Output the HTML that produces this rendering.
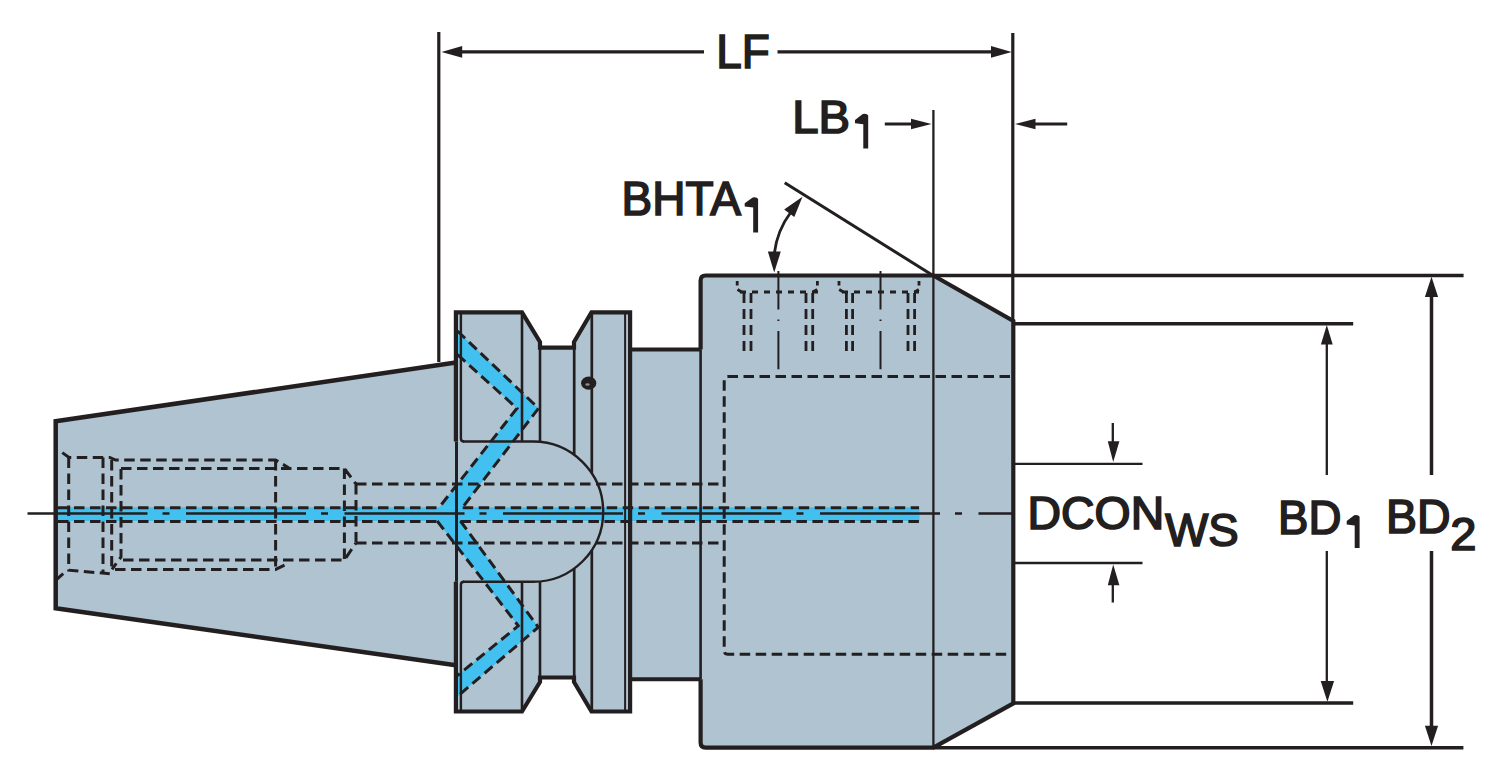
<!DOCTYPE html>
<html><head><meta charset="utf-8">
<style>
html,body{margin:0;padding:0;background:#fff;width:1500px;height:774px;overflow:hidden}
svg{display:block}
text{font-family:"Liberation Sans",sans-serif}
</style></head><body>
<svg width="1500" height="774" viewBox="0 0 1500 774">
<g fill="#afc3d1" stroke="none">
<path d="M55.7 421.2 L455.9 362.6 V665.3 L55.7 608.2 Z"/>
<path d="M455.9 312.3 H522 L540 342 V347.6 H574 V342 L591.5 312.3 H630.1 V711.5 H591.5 L574 682 V677.5 H540 V682 L522 711.5 H455.9 Z"/>
<rect x="628" y="349.6" width="73.60000000000002" height="329.6"/>
<path d="M705.6 275.5 H933.3 L1013.3 321 V703.4 L933.3 747.6 H705.6 Q700.6 747.6 700.6 742.6 V280.5 Q700.6 275.5 705.6 275.5 Z"/>
</g>
<g fill="#42c1f1" stroke="none">
<rect x="58" y="507.2" width="861.5" height="13.800000000000011"/>
<path d="M457.5 331.0 538.5 408.3 462.7 507.2 L439.3 507.2 517.0 408.3 457.5 354.6 Z"/>
<path d="M437.2 521.0 518.3 625.8 457.5 675.5 L457.5 696.4 538.3 627.2 460.4 521.0 Z"/>
</g>
<g stroke="#231f20" fill="none" stroke-linecap="butt" stroke-linejoin="miter">
<path d="M455.9 362.6 L55.7 421.2 L55.7 608.2 L455.9 665.3" stroke-width="4.5"/>
<path d="M455.9 441.5 V312.3 H522 L540 342 V347.6 H574 V342 L591.5 312.3 H630.1 V711.5 H591.5 L574 682 V677.5 H540 V682 L522 711.5 H455.9 V581.8" stroke-width="4.2"/>
<path d="M460.9 312.3 V438.5 Q460.9 441.5 464 441.5 M460.9 711.5 V584.8 Q460.9 581.8 464 581.8" stroke-width="2.4"/>
<path d="M522 312.3 V441.5 M522 581.8 V711.5" stroke-width="2.6"/>
<path d="M540 342 V441.5 M540 581.8 V682" stroke-width="2.6"/>
<path d="M574.2 342 V454.83714934101613 M574.2 568.4628506589838 V682" stroke-width="2.7"/>
<path d="M591.8 312.3 V473.31646376865274 M591.8 549.9835362313472 V711.5" stroke-width="2.7"/>
<path d="M625.1 312.3 V711.5" stroke-width="2"/>
<path d="M463 441.5 H533.0500000000001 A70.14999999999998 70.14999999999998 0 0 1 533.0500000000001 581.8 H463" stroke-width="2.4"/>
<path d="M456.5 441.5 V581.8" stroke-width="3"/>
<path d="M630.1 349.6 H700.6 M630.1 679.2 H700.6" stroke-width="4"/>
<path d="M700.6 349.6 V679.2" stroke-width="2.6"/>
<path d="M700.6 349.6 V280.5 Q700.6 275.5 705.6 275.5 H933.3 L1013.3 321 V703.4 L933.3 747.6 H705.6 Q700.6 747.6 700.6 742.6 V679.2" stroke-width="4.2"/>
<ellipse cx="588.7" cy="383.2" rx="7.6" ry="6.6" fill="#231f20" stroke="none"/>
<ellipse cx="587.5" cy="384.5" rx="2.2" ry="1.2" fill="#8a8f96" stroke="none"/>
</g>
<g stroke="#231f20" fill="none" stroke-width="3" stroke-dasharray="10.5 5.5">
<path d="M58 507.7 H439.3 M462.7 507.7 H919"/>
<path d="M58 521.5 H437.2 M460.4 521.5 H919"/>
<path d="M457.5 331.0 L538.5 408.3 L462.7 507.2"/>
<path d="M457.5 354.6 L517.0 408.3 L439.3 507.2"/>
<path d="M437.2 521.0 L518.3 625.8 L457.5 675.5"/>
<path d="M460.4 521.0 L538.3 627.2 L457.5 696.4"/>
<path d="M356 484 H724 M356 543 H724"/>
<path d="M1010 376.5 H728 Q724.2 376.5 724.2 380 V651 Q724.2 654.2 728 654.2 H1010"/>
<path d="M62.3 452.6 L69 457.4 H109.75 L115.6 460 H275.6 L289 468"/>
<path d="M68.7 457.4 V570.2 L109.75 573.7"/>
<path d="M56.5 579.5 L63.25 573.7"/>
<path d="M103 457.4 V573 M111.7 460 V572"/>
<path d="M121 469 V557 L112 569.4 M123 560 H344.4 L356 543"/>
<path d="M121 468.5 H344.4 L356 484 M344.4 468.5 V560 M356 484 V543"/>
<path d="M115 569.4 H275.6 L289 563 M275.6 460 V569.4"/>
</g>
<path d="M27.5 513.5 H1013" stroke="#231f20" stroke-width="2.4" stroke-dasharray="120 15 7 16.5" fill="none"/>
<g stroke="#231f20" fill="none" stroke-width="2.8" stroke-dasharray="10 6">
<path d="M744 293 V353 M751 293 V353 M806 293 V353 M812.7 293 V353"/>
<path d="M846.4 293 V353 M852.6 293 V353 M908 293 V353 M914.6 293 V353"/>
</g>
<g stroke="#231f20" fill="none" stroke-width="2.8" stroke-dasharray="6 6">
<path d="M740 292 H818 M842 292 H919"/>
</g>
<g stroke="#231f20" fill="none" stroke-width="2.8">
<path d="M737.2 281 V285.5 M817.4 281 V285.5 M839 281 V285.5 M919 281 V285.5"/>
<path d="M737.5 289.5 L742 292.3 M817.2 289.5 L812.7 292.3 M839.2 289.5 L843.7 292.3 M918.8 289.5 L914.3 292.3"/>
</g>
<g stroke="#231f20" fill="none" stroke-width="2">
<path d="M778.4 271 V369.3" stroke-dasharray="38.6 10 1.5 10"/>
<path d="M880.5 271 V369.3" stroke-dasharray="38.6 10 1.5 10"/>
</g>
<g stroke="#231f20" fill="none">
<path d="M438.8 32 V362 M1012.8 33 V321" stroke-width="3.2"/>
<path d="M458 51.9 H704 M777.5 51.9 H994" stroke-width="3.2"/>
<path d="M933.4 110 V747" stroke-width="2.3"/>
<path d="M884.8 124 H914 M1032 124 H1067.2" stroke-width="3.2"/>
<path d="M784.7 182.7 L933 275.5" stroke-width="3"/>
<path d="M1015 463.8 H1142.5 M1015 563 H1142.5" stroke-width="2.3"/>
<path d="M1112.8 423 V446 M1112.8 580 V602.5" stroke-width="2.3"/>
<path d="M1015 323.8 H1353.2 M1015 703 H1353.2" stroke-width="3.6"/>
<path d="M1326.8 340 V475 M1326.8 551 V686" stroke-width="2.3"/>
<path d="M933 275.5 H1463.6 M933 747.7 H1463.4" stroke-width="3.4"/>
<path d="M1431.5 292 V475 M1431.5 551 V730" stroke-width="3.5"/>
<path d="M791 212 A85 85 0 0 0 774.4 253" stroke-width="2.8"/>
</g>
<g fill="#231f20" stroke="none">
<path d="M441.5 51.9 L462.2 46.1 L462.2 57.7 Z"/>
<path d="M1011.7 51.9 L991 46.1 L991 57.7 Z"/>
<path d="M931.5 124 L911 118.8 L911 129.2 Z"/>
<path d="M1015 124 L1035.5 118.8 L1035.5 129.2 Z"/>
<path d="M1113.2 462 L1107.8 441.3 L1119.4 441.3 Z"/>
<path d="M1113.2 564.5 L1107.8 585.2 L1119.4 585.2 Z"/>
<path d="M1326.8 325 L1320.9 344.4 L1332.7 344.4 Z"/>
<path d="M1327.4 701.7 L1320.7 681 L1334.1 681 Z"/>
<path d="M1431.5 276.8 L1424.9 297.1 L1438.1 297.1 Z"/>
<path d="M1431.5 746 L1424.9 725.7 L1438.1 725.7 Z"/>
<path d="M802.5 196.7 L794.3 217 L784.2 209.6 Z"/>
<path d="M774.2 272.6 L767.9 251.6 L780.8 251.6 Z"/>
</g>
<g fill="#231f20" stroke="#231f20" stroke-width="1.7" stroke-linejoin="miter">
<text transform="translate(716.18 68.05) scale(0.944 1)" font-size="48.55">LF</text>
<text transform="translate(792.28 133.45) scale(1.017 1)" font-size="46.52">LB</text>
<text transform="translate(621.62 214.65) scale(0.948 1)" font-size="48.55">BHTA</text>
<text transform="translate(1027.55 528.89) scale(1.014 1)" font-size="45.77">DCON</text>
<text transform="translate(1165.28 545.79) scale(0.987 1)" font-size="46.20">WS</text>
<text transform="translate(1278.06 534.25) scale(0.957 1)" font-size="47.68">BD</text>
<text transform="translate(1386.11 533.25) scale(0.974 1)" font-size="47.68">BD</text>
<text transform="translate(1450.22 549.65) scale(1.024 1)" font-size="46.00">2</text>

</g>
<g fill="#231f20" stroke="none">
<path d="M868.20 115.50 V148.60 H863.30 V124.20 L855.00 123.20 V119.90 L862.80 114.00 Q867.20 113.40 868.20 115.50 Z"/>
<path d="M758.10 198.90 V232.50 H753.20 V207.60 L744.70 206.60 V203.30 L752.70 197.40 Q757.10 196.80 758.10 198.90 Z"/>
<path d="M1359.60 516.70 V548.10 H1354.70 V525.40 L1346.70 524.40 V521.10 L1354.20 515.20 Q1358.60 514.60 1359.60 516.70 Z"/>
</g>
</svg>
</body></html>
